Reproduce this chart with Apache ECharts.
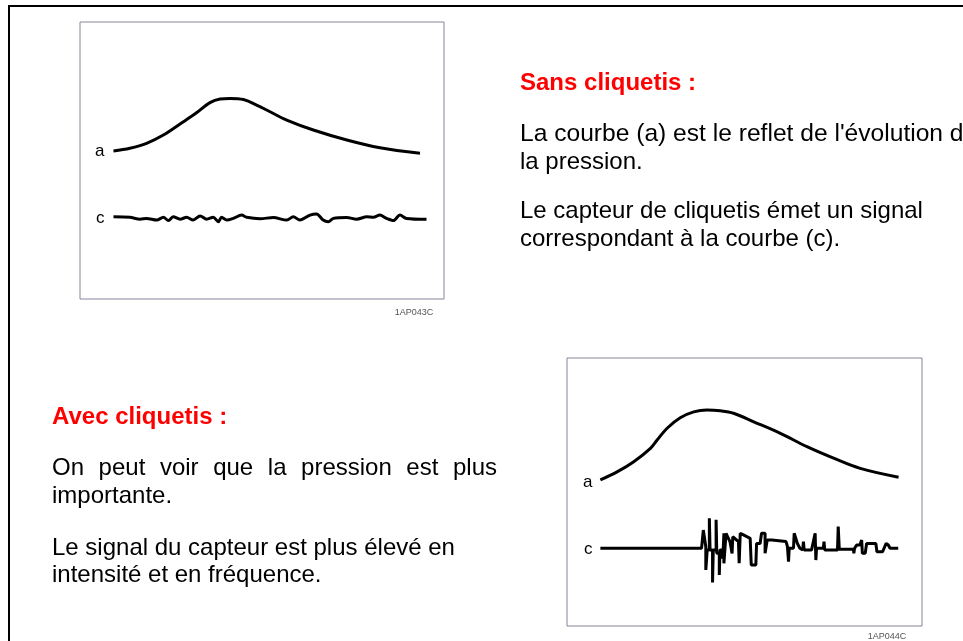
<!DOCTYPE html>
<html>
<head>
<meta charset="utf-8">
<script src="https://cdn.jsdelivr.net/npm/echarts@6/dist/echarts.min.js"></script>
<style>html,body{margin:0;padding:0;background:#fff}#c{width:963px;height:641px}</style>
</head>
<body>
<div id="c"></div>
<script>
// ---- Data (x: time 0-100, y: signal level 0-100) ----
var topCurveA = [[9.2,53.4],[13.7,54.4],[18.3,56.2],[22.9,59.2],[27.5,63.2],[32.1,67.3],[35.7,70.9],[38.5,72.2],[41.2,72.4],[44.9,72.0],[48.5,70.0],[52.2,67.6],[56.8,64.6],[64.1,61.0],[73.3,57.4],[82.4,54.6],[93.4,52.6]];
var topCurveC = [[9.2,29.7],[13.7,29.5],[16.5,28.8],[18.3,29.1],[21.1,28.5],[22.9,29.5],[24.3,28.3],[25.6,29.7],[27.5,28.8],[29.3,29.5],[31.1,28.5],[33.0,30.0],[34.8,28.8],[36.6,29.5],[38.0,27.9],[38.9,29.5],[40.3,28.5],[42.1,29.1],[44.4,30.3],[45.8,29.5],[49.5,29.0],[53.1,29.4],[56.8,28.5],[58.6,29.7],[60.4,28.5],[63.2,30.3],[65.0,30.7],[66.8,28.5],[68.2,27.9],[69.6,29.1],[73.3,29.4],[76.0,28.8],[78.8,29.7],[80.6,29.5],[82.4,30.3],[84.2,29.1],[86.1,28.3],[87.9,30.3],[89.7,29.1],[95.2,28.8]];
var botCurveA = [[9.4,54.5],[14.1,57.5],[18.8,61.3],[23.5,66.3],[25.4,69.4],[28.2,73.8],[31.9,77.7],[35.7,79.9],[39.4,80.6],[43.2,80.3],[46.9,79.4],[52.6,76.2],[60.1,71.9],[67.6,66.9],[75.1,62.6],[82.6,58.8],[93.4,55.5]];
var botCurveC = [[9.4,29.0],[37.9,29.0],[38.4,35.8],[39.1,29.6],[39.1,20.9],[39.5,28.4],[40.1,28.4],[40.1,40.2],[40.3,28.4],[41.0,28.4],[41.0,16.2],[41.2,28.4],[42.0,28.4],[42.0,39.6],[42.2,27.1],[42.9,27.1],[42.9,19.0],[43.1,28.4],[43.7,28.4],[43.7,25.2],[44.0,28.4],[44.2,34.6],[44.2,23.4],[44.5,23.4],[44.8,34.6],[45.9,31.5],[46.5,27.1],[46.7,33.3],[48.3,31.5],[48.5,23.4],[48.8,23.4],[48.8,34.6],[49.7,34.0],[51.6,32.7],[51.9,22.8],[53.2,22.8],[53.4,30.8],[54.4,30.8],[54.8,34.6],[55.8,34.6],[55.8,27.1],[56.2,27.1],[56.4,32.1],[57.7,32.1],[58.1,31.5],[61.7,31.5],[62.1,29.6],[62.4,24.0],[62.6,29.0],[63.8,29.0],[64.0,34.6],[64.9,30.8],[65.6,29.0],[66.4,28.4],[66.6,31.5],[66.8,28.4],[68.9,28.4],[69.9,34.6],[70.1,24.6],[70.3,29.0],[72.2,29.0],[72.4,31.5],[72.6,28.4],[76.2,28.4],[76.4,37.1],[76.7,28.6],[80.7,28.6],[80.8,27.1],[81.0,29.0],[81.6,30.2],[82.5,30.2],[83.0,32.1],[83.2,27.1],[84.0,27.1],[84.4,30.8],[87.0,30.8],[87.3,27.7],[88.9,27.7],[89.9,30.8],[90.5,30.2],[91.0,29.0],[93.3,29.0]];
var curveLabels = ['a', 'c'];
var figureCodes = ['1AP043C', '1AP044C'];
var headingTop = 'Sans cliquetis :';
var linesTop = ["La courbe (a) est le reflet de l'évolution de", 'la pression.', 'Le capteur de cliquetis émet un signal', 'correspondant à la courbe (c).'];
var headingBot = 'Avec cliquetis :';
var justifiedLine = 'On peut voir que la pression est plus';
var linesBot = ['importante.', 'Le signal du capteur est plus élevé en', 'intensité et en fréquence.'];

var FONT = "'Liberation Sans', Arial, sans-serif";
var chart = echarts.init(document.getElementById('c'), null, {renderer: 'canvas'});

function txt(s, x, baseline, opts) {
  opts = opts || {};
  var size = opts.size || 24;
  return {
    type: 'text', x: x, y: baseline - size * 0.35, silent: true,
    style: {
      text: s, fill: opts.color || '#000', font: (opts.bold ? 'bold ' : '') + size + 'px ' + FONT,
      verticalAlign: 'middle', align: opts.align || 'left'
    }
  };
}

var graphics = [];
graphics.push({type: 'rect', shape: {x: 9, y: 6, width: 1000, height: 700}, style: {fill: 'none', stroke: '#000', lineWidth: 2}, silent: true});
graphics.push(txt(headingTop, 520, 92, {bold: true, color: '#ff0000'}));
var topBase = [143, 171, 220, 248];
linesTop.forEach(function (l, i) { graphics.push(txt(l, 520, topBase[i], {size: i === 0 ? 24.6 : 24})); });
graphics.push(txt(headingBot, 52, 426, {bold: true, color: '#ff0000'}));

// justified line
(function () {
  var c = document.createElement('canvas').getContext('2d');
  c.font = '24px ' + FONT;
  var words = justifiedLine.split(' ');
  var widths = words.map(function (w) { return c.measureText(w).width; });
  var total = widths.reduce(function (a, b) { return a + b; }, 0);
  var x0 = 52, x1 = 497;
  var gap = (x1 - x0 - total) / (words.length - 1);
  var x = x0;
  words.forEach(function (w, i) { graphics.push(txt(w, x, 477)); x += widths[i] + gap; });
})();
var botBase = [505, 557, 584];
linesBot.forEach(function (l, i) { graphics.push(txt(l, 52, botBase[i])); });

// curve labels and figure codes
graphics.push(txt(curveLabels[0], 95, 157, {size: 17}));
graphics.push(txt(curveLabels[1], 96, 224, {size: 17}));
graphics.push(txt(curveLabels[0], 583, 488, {size: 17}));
graphics.push(txt(curveLabels[1], 584, 555, {size: 17}));
graphics.push(txt(figureCodes[0], 414, 316, {size: 9, color: '#555', align: 'center'}));
graphics.push(txt(figureCodes[1], 887, 640, {size: 9, color: '#555', align: 'center'}));

function axis(i) { return {type: 'value', gridIndex: i, min: 0, max: 100, show: false}; }
var lineStyle = {color: '#000', width: 3};

chart.setOption({
  animation: false,
  backgroundColor: '#fff',
  grid: [
    {left: 80, top: 22, width: 364, height: 277, show: true, borderColor: '#8a849c', borderWidth: 1, backgroundColor: 'transparent'},
    {left: 567, top: 358, width: 355, height: 268, show: true, borderColor: '#8a849c', borderWidth: 1, backgroundColor: 'transparent'}
  ],
  xAxis: [axis(0), axis(1)],
  yAxis: [axis(0), axis(1)],
  series: [
    {type: 'line', xAxisIndex: 0, yAxisIndex: 0, data: topCurveA, smooth: 0.35, showSymbol: false, lineStyle: lineStyle},
    {type: 'line', xAxisIndex: 0, yAxisIndex: 0, data: topCurveC, smooth: 0.3, showSymbol: false, lineStyle: lineStyle},
    {type: 'line', xAxisIndex: 1, yAxisIndex: 1, data: botCurveA, smooth: 0.35, showSymbol: false, lineStyle: lineStyle},
    {type: 'line', xAxisIndex: 1, yAxisIndex: 1, data: botCurveC, smooth: false, showSymbol: false, lineStyle: {color: '#000', width: 3}}
  ],
  graphic: graphics
});
</script>
</body>
</html>
